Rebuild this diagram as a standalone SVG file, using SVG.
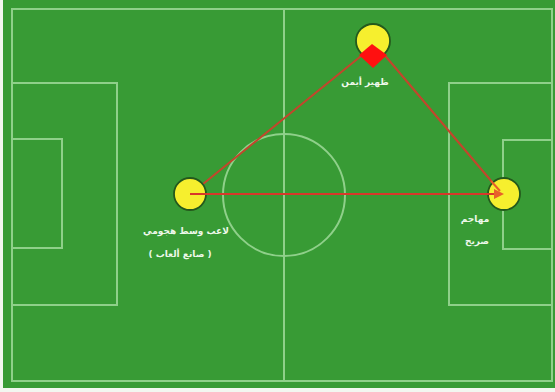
<svg xmlns="http://www.w3.org/2000/svg" width="555" height="392" viewBox="0 0 555 392">
<style>
.ln{fill:none;stroke:#8fd08a;stroke-width:2}
.pl{fill:#f6ef2e;stroke:#24591c;stroke-width:1.8}
.lbl{font-family:"DejaVu Sans",sans-serif;font-size:9px;font-weight:bold;fill:#eef8ea;text-anchor:middle}
.cn{stroke:#c4452c;stroke-width:2;fill:none}
</style>
<rect x="0" y="0" width="555" height="392" fill="#f2f7f0"/>
<rect x="3" y="0" width="552" height="388" fill="#389b35"/>
<g id="field">
<rect class="ln" x="12" y="9" width="540" height="372"/>
<line class="ln" x1="284" y1="9" x2="284" y2="381"/>
<circle class="ln" cx="284" cy="195" r="61"/>
<rect class="ln" x="12" y="83" width="105" height="222"/>
<rect class="ln" x="12" y="139" width="50" height="109"/>
<rect class="ln" x="449" y="83" width="103" height="222"/>
<rect class="ln" x="503" y="140" width="49" height="109"/>
</g>
<g id="connectors">
<line class="cn" x1="203" y1="184" x2="366" y2="52"/>
<line class="cn" x1="382" y1="52" x2="498" y2="189"/>
</g>
<g id="player-left">
<circle class="pl" cx="190" cy="194" r="16"/>
<text class="lbl" x="186" y="234">لاعب وسط هجومي</text>
<text class="lbl" x="180" y="257">( صانع ألعاب )</text>
</g>
<g id="player-top">
<circle class="pl" cx="373" cy="41" r="17"/>
<polygon points="372,44 359,55 373,68 387,55" fill="#ff1010"/>
<text class="lbl" x="365" y="85">ظهير أيمن</text>
</g>
<g id="player-right">
<circle class="pl" cx="504" cy="194" r="16"/>
<text class="lbl" x="475" y="222">مهاجم</text>
<text class="lbl" x="477" y="244">صريح</text>
</g>
<g id="connector-main">
<line stroke="#d8382a" stroke-width="2" x1="190" y1="194" x2="500" y2="194"/>
<polygon points="504,194 494,189 494,199" fill="#e8602a"/>
<line stroke="#e8602a" stroke-width="2" x1="491" y1="181" x2="500" y2="191"/>
</g>
</svg>
